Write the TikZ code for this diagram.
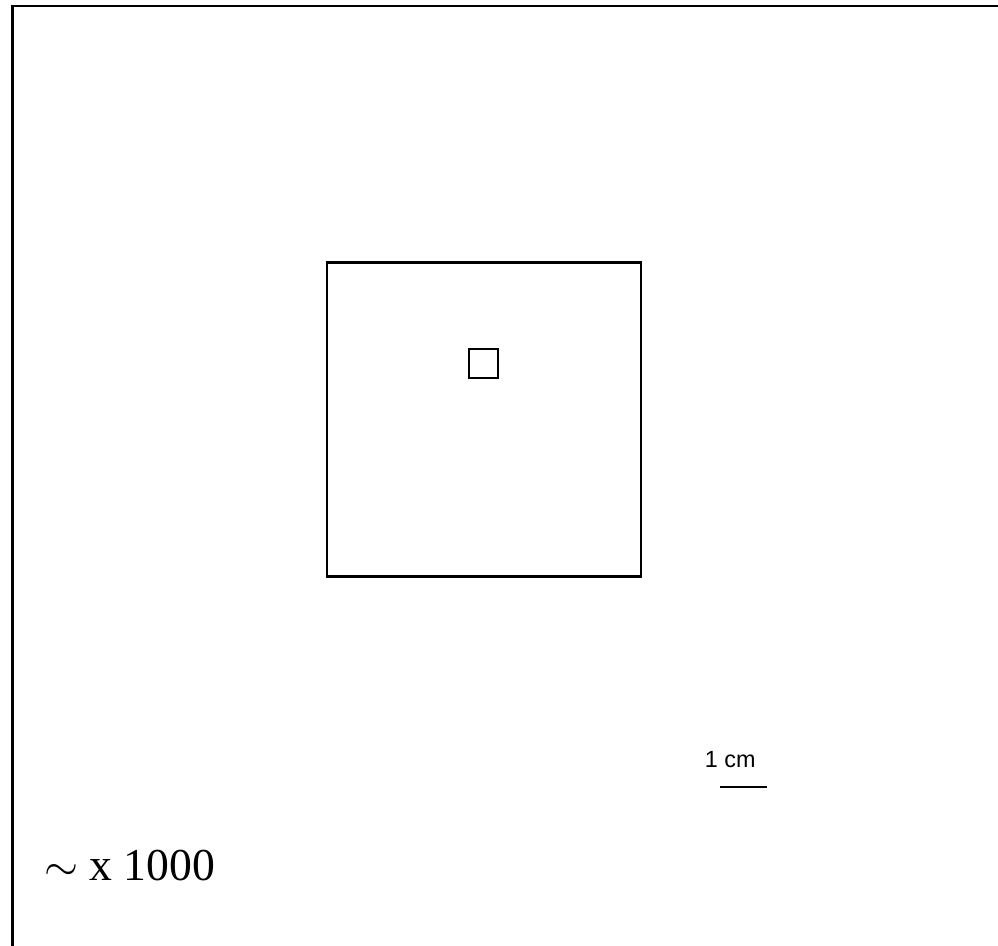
\documentclass[tikz,border=0pt]{standalone}
\usepackage{fontspec}
\setmainfont{Liberation Serif}
\newfontfamily\labelsans{Liberation Sans}
\usetikzlibrary{positioning}

\begin{document}
\begin{tikzpicture}[
    x=0.02cm, y=-0.02cm,
    % Styles
    square/.style={draw=black, rectangle, line width=1.2pt, inner sep=0pt},
    frameline/.style={draw=black, line width=1.4pt},
    scalebar/.style={draw=black, line width=1.2pt},
    unitlabel/.style={anchor=base west, inner sep=0pt, font=\labelsans\fontsize{13.3}{16}\selectfont},
    zoomlabel/.style={anchor=base west, inner sep=0pt, font=\fontsize{26}{31}\selectfont}
    ]

    \useasboundingbox (0,0) rectangle (998,946);
    \clip (0,0) rectangle (998,946);

    % 1. Frame (open to the right and bottom)
    \coordinate (frame_bl) at (12.5,946);
    \coordinate (frame_tl) at (12.5,6);
    \coordinate (frame_tr) at (998,6);
    \draw[frameline] (frame_bl) -- (frame_tl) -- (frame_tr);

    % 2. Squares
    \node (outer) [square, minimum size=6.28cm] at (484,419.5) {};
    \node (inner) [square, minimum size=0.58cm] at (483.5,363.5) {};

    % 3. Scale bar
    \node (unit) [unitlabel] at (704.5,767) {1 cm};
    \coordinate (bar_l) at (720,786.7);
    \coordinate (bar_r) at (767,786.7);
    \draw[scalebar] (bar_l) -- (bar_r);

    % 4. Magnification
    \node (zoom) [zoomlabel] at (44,880) {$\sim$ x 1000};
\end{tikzpicture}
\end{document}
